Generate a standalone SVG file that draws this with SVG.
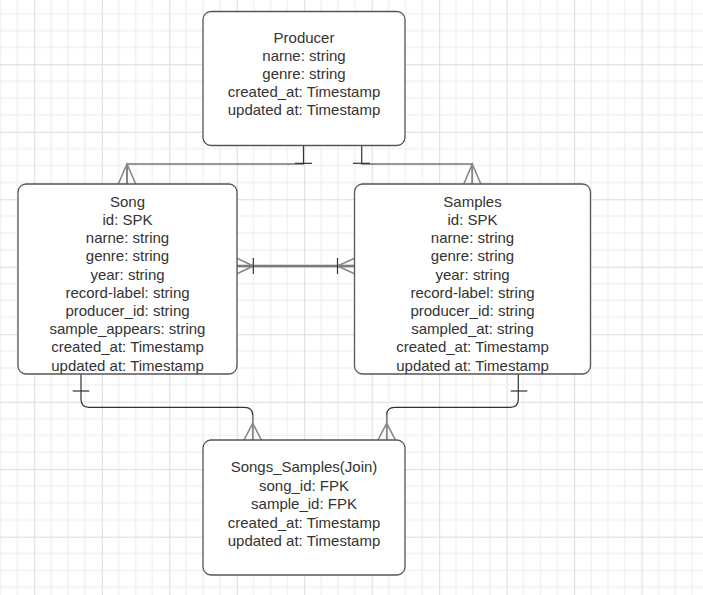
<svg xmlns="http://www.w3.org/2000/svg" width="703" height="595" viewBox="0 0 703 595">
<defs>
<pattern id="grid" x="34.3" y="64.3" width="67.48" height="67.48" patternUnits="userSpaceOnUse">
<path d="M16.87 0V67.48M33.74 0V67.48M50.61 0V67.48M0 16.87H67.48M0 33.74H67.48M0 50.61H67.48" stroke="#ececec" stroke-width="1" fill="none"/>
<path d="M0.5 0V67.48M0 0.5H67.48" stroke="#dcdcdc" stroke-width="1" fill="none"/>
</pattern>
</defs>
<style>
.box{fill:#fff;stroke:#555;stroke-width:1.3}
.t{font-family:"Liberation Sans",Arial,sans-serif;font-size:15px;fill:#333;text-anchor:middle}
.ln{fill:none;stroke:#333;stroke-width:1.2}
.gl{fill:none;stroke:#888;stroke-width:1.6}
.thick{fill:none;stroke:#7a7a7a;stroke-width:2.6}
</style>
<rect width="703" height="595" fill="#fff"/>
<rect width="703" height="595" fill="url(#grid)"/>

<g id="connectors">
<path class="ln" d="M303.5 146V164H127V184"/>
<path class="ln" d="M295 163.3H312"/>
<path class="gl" d="M118.3 184L127 164L135.7 184M127 164V184"/>
<path class="ln" d="M361.7 146V164H472.3V184"/>
<path class="ln" d="M353 163.3H370"/>
<path class="gl" d="M463.8 184L472.3 164L480.8 184M472.3 164V184"/>
<path class="thick" d="M237 266H354.5"/>
<path class="gl" d="M237 258.3L253.3 266L237 273.7M354.5 258.3L337.5 266L354.5 273.7"/>
<path class="ln" d="M253.3 258V274M337.5 258V274"/>
<path class="ln" d="M81 374V399.3Q81 407.3 89 407.3H244.7Q252.7 407.3 252.7 415.3V440"/>
<path class="ln" d="M72.7 391H89.3"/>
<path class="gl" d="M244 440L252.7 423.3L261.4 440M252.7 415V440"/>
<path class="ln" d="M518.3 374V399.3Q518.3 407.3 510.3 407.3H394.7Q386.7 407.3 386.7 415.3V440"/>
<path class="ln" d="M510.7 391H527.3"/>
<path class="gl" d="M378 440L386.7 423.3L395.4 440M386.7 415V440"/>
</g>

<g id="producer">
<rect class="box" x="203" y="11.5" width="202" height="134" rx="8"/>
<text class="t" x="304" y="43">Producer</text>
<text class="t" x="304" y="61.1">narne: string</text>
<text class="t" x="304" y="79.2">genre: string</text>
<text class="t" x="304" y="97.3">created_at: Timestamp</text>
<text class="t" x="304" y="115.4">updated at: Timestamp</text>
</g>

<g id="song">
<rect class="box" x="18" y="184" width="219" height="190" rx="8"/>
<text class="t" x="127.5" y="206.7">Song</text>
<text class="t" x="127.5" y="224.9">id: SPK</text>
<text class="t" x="127.5" y="243.1">narne: string</text>
<text class="t" x="127.5" y="261.3">genre: string</text>
<text class="t" x="127.5" y="279.5">year: string</text>
<text class="t" x="127.5" y="297.7">record-label: string</text>
<text class="t" x="127.5" y="315.9">producer_id: string</text>
<text class="t" x="127.5" y="334.1">sample_appears: string</text>
<text class="t" x="127.5" y="352.3">created_at: Timestamp</text>
<text class="t" x="127.5" y="370.5">updated at: Timestamp</text>
</g>

<g id="samples">
<rect class="box" x="354.5" y="184" width="236" height="190" rx="8"/>
<text class="t" x="472.5" y="206.7">Samples</text>
<text class="t" x="472.5" y="224.9">id: SPK</text>
<text class="t" x="472.5" y="243.1">narne: string</text>
<text class="t" x="472.5" y="261.3">genre: string</text>
<text class="t" x="472.5" y="279.5">year: string</text>
<text class="t" x="472.5" y="297.7">record-label: string</text>
<text class="t" x="472.5" y="315.9">producer_id: string</text>
<text class="t" x="472.5" y="334.1">sampled_at: string</text>
<text class="t" x="472.5" y="352.3">created_at: Timestamp</text>
<text class="t" x="472.5" y="370.5">updated at: Timestamp</text>
</g>

<g id="songs_samples">
<rect class="box" x="203" y="440" width="202" height="135" rx="8"/>
<text class="t" x="304" y="472.3">Songs_Samples(Join)</text>
<text class="t" x="304" y="490.7">song_id: FPK</text>
<text class="t" x="304" y="509.1">sample_id: FPK</text>
<text class="t" x="304" y="527.5">created_at: Timestamp</text>
<text class="t" x="304" y="545.9">updated at: Timestamp</text>
</g>
</svg>
